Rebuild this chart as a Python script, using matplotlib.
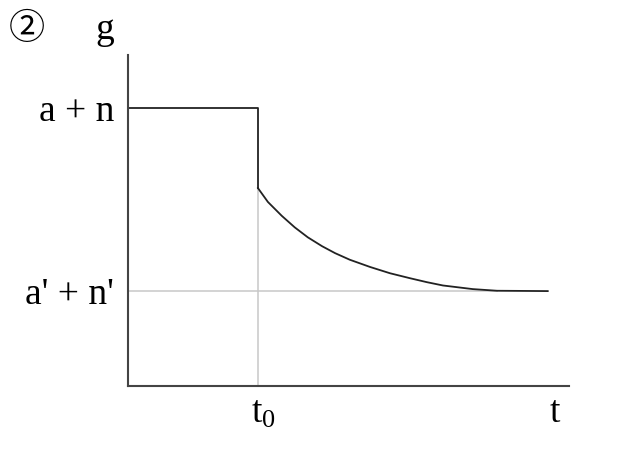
import matplotlib
matplotlib.use("Agg")
import matplotlib.pyplot as plt

plt.rcParams['font.family'] = ['Liberation Serif', 'Noto Sans CJK JP', 'DejaVu Sans']
plt.rcParams['mathtext.fontset'] = 'custom'
plt.rcParams['mathtext.rm'] = 'Liberation Serif'

# levels of g
level_high = 8.42   # a + n
level_jump = 6.00   # value right after t0
level_low = 2.88    # a' + n'
t0 = 3.0

# step part before t0
step_t = [0.0, 3.0, 3.0]
step_g = [8.42, 8.42, 6.00]

# decay after t0
curve_t = [3.00, 3.23, 3.55, 3.85, 4.15, 4.48, 4.78, 5.12, 5.59, 6.05,
           6.51, 6.90, 7.27, 7.96, 8.52, 9.69]
curve_g = [6.00, 5.58, 5.16, 4.81, 4.51, 4.24, 4.03, 3.83, 3.61, 3.42,
           3.27, 3.15, 3.05, 2.94, 2.89, 2.88]

y_labels = ["a + n", "a' + n'"]
x_labels = [r"$\mathregular{t_0}$", "t"]
x_label_pos = [3.12, 9.85]

fig = plt.figure(figsize=(6.4, 4.63), dpi=100)
ax = fig.add_axes([0.2, 0.166, 0.689, 0.715])
ax.set_xlim(0, 10.18)
ax.set_ylim(0, 10.03)

# light guide lines
ax.plot([t0, t0], [0, level_jump], color='#c8c8c8', lw=1.1, zorder=1)
ax.plot([0, 8.52], [level_low, level_low], color='#c8c8c8', lw=1.1, zorder=1)

ax.plot(step_t, step_g, color='#222222', lw=1.3, zorder=2)
ax.plot(curve_t, curve_g, color='#222222', lw=1.3, zorder=2)

for s in ['top', 'right']:
    ax.spines[s].set_visible(False)
for s in ['left', 'bottom']:
    ax.spines[s].set_color('#444444')
    ax.spines[s].set_linewidth(1.5)

ax.set_yticks([level_high, level_low])
ax.set_yticklabels(y_labels, fontsize=27)
ax.set_xticks(x_label_pos)
ax.set_xticklabels(x_labels, fontsize=27)
ax.tick_params(axis='y', length=0, pad=10)
ax.tick_params(axis='x', length=0, pad=7)

fig.text(105 / 640, 1 - 30 / 463, "g", fontsize=27, ha='center', va='center')
fig.text(27 / 640, 1 - 30 / 463, "②", fontsize=26, ha='center', va='center')

fig.savefig("out.png", dpi=100)
